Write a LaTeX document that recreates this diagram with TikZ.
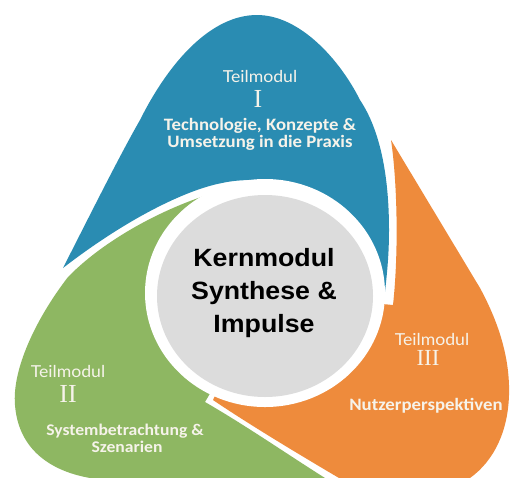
\documentclass[tikz,border=0pt]{standalone}
\usepackage{fontspec}
\setmainfont[FakeStretch=1.07]{Liberation Sans}
\newfontfamily\carl[FakeStretch=1.08]{Carlito}
\newfontfamily\latof[FakeStretch=1.07]{Lato}
\newfontfamily\romf{Liberation Serif}
\definecolor{cblue}{HTML}{2A8CB2}
\definecolor{cgreen}{HTML}{8EB762}
\definecolor{corange}{HTML}{EE8B3C}
\definecolor{cgray}{HTML}{DCDCDC}
\definecolor{ctext}{HTML}{F6F3EA}
\begin{document}
\begin{tikzpicture}[x=1pt,y=-1pt,
  lbl/.style={inner sep=0pt, anchor=base, text=ctext},
  tm/.style={lbl, font=\latof\fontsize{16.5}{20}\selectfont},
  rn/.style={lbl, font=\romf\fontsize{26}{30}\selectfont},
  rnsmall/.style={lbl, font=\romf\fontsize{23}{28}\selectfont},
  desc/.style={lbl, font=\carl\bfseries\fontsize{17.4}{21}\selectfont},
  descsmall/.style={lbl, font=\carl\bfseries\fontsize{16.3}{20}\selectfont},
  core/.style={inner sep=0pt, anchor=base, text=black, font=\bfseries\fontsize{25}{30}\selectfont}]
\useasboundingbox (0,0) rectangle (510,477);
\fill[white] (0,0) rectangle (510,477);
\begin{scope}
\clip (0,0) rectangle (510,477);
% Teilmodul I (blue)
\fill[cblue] (63,268) .. controls (95,205) and (120,155) .. (140,120)
  .. controls (170,60) and (212,15) .. (257,15)
  .. controls (300,15) and (340,60) .. (360,100)
  .. controls (380,130) and (389,175) .. (389,230)
  .. controls (389,255) and (387,275) .. (384,300)
  -- (265,293) -- (280,184)
  .. controls (262,179) and (240,179) .. (222,183)
  .. controls (185,190) and (125,220) .. (63,268) -- cycle;
% Teilmodul II (green)
\fill[cgreen] (232,188) .. controls (180,200) and (110,234) .. (68,277)
  .. controls (35,320) and (12,370) .. (15,405)
  .. controls (18,445) and (45,470) .. (90,478)
  -- (325,478)
  .. controls (290,456) and (245,425) .. (205,402)
  -- (215,385) -- (265,293) -- cycle;
% Teilmodul III (orange)
\fill[corange] (391,140) -- (480,288)
  .. controls (500,325) and (510,360) .. (509,395)
  .. controls (508,430) and (495,460) .. (470,478)
  -- (339,478)
  .. controls (300,455) and (250,425) .. (213,400)
  -- (265,293) -- (393,305)
  .. controls (399,250) and (397,180) .. (391,140) -- cycle;
\end{scope}
% white ring and core circle
\fill[white] (265,293) ellipse [x radius=120pt, y radius=114pt];
\fill[cgray] (265,296) ellipse [x radius=108pt, y radius=101pt];
% texts
\node[tm] (t1) at (260,82) {Teilmodul};
\node[rn] (n1) at (258,107) {I};
\node[desc] (d1a) at (260,130) {Technologie, Konzepte \&};
\node[desc] (d1b) at (260,147) {Umsetzung in die Praxis};
\node[tm] (t2) at (68,377) {Teilmodul};
\node[rn] (n2) at (68,402) {II};
\node[descsmall] (d2a) at (125,435) {Systembetrachtung \&};
\node[descsmall] (d2b) at (127,452) {Szenarien};
\node[tm] (t3) at (432,345) {Teilmodul};
\node[rnsmall] (n3) at (428,365) {III};
\node[desc] (d3) at (426,410) {Nutzerperspektiven};
\node[core] (c1) at (264,266) {Kernmodul};
\node[core] (c2) at (264,299) {Synthese \&};
\node[core] (c3) at (264,332) {Impulse};
\end{tikzpicture}
\end{document}
